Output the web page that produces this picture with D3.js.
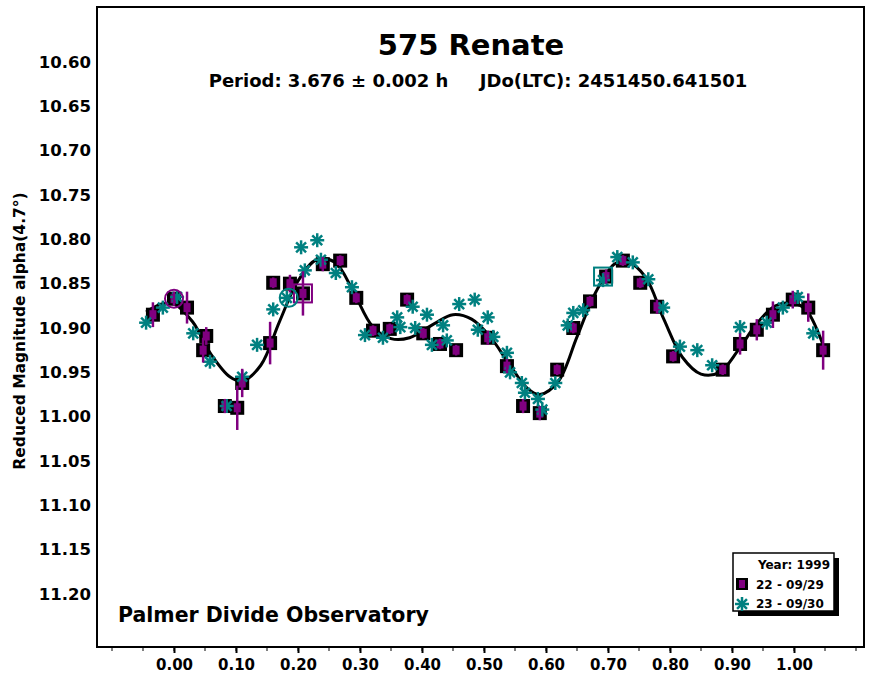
<!DOCTYPE html><html><head><meta charset="utf-8"><script src="https://cdn.jsdelivr.net/npm/d3@7"></script>
<style>body{margin:0;background:#fff}text{font-family:"DejaVu Sans",Arial,sans-serif;font-weight:bold}</style></head><body>
<svg id="c" width="878" height="675"></svg>
<script>
const xTicks=[0,0.1,0.2,0.3,0.4,0.5,0.6,0.7,0.8,0.9,1.0];
const yTicks=[10.60,10.65,10.70,10.75,10.80,10.85,10.90,10.95,11.00,11.05,11.10,11.15,11.20];
const s1x=[-0.034,0.0,0.021,0.047,0.052,0.082,0.102,0.110,0.155,0.160,0.187,0.208,0.240,0.268,0.294,0.321,0.348,0.376,0.402,0.429,0.455,0.506,0.537,0.563,0.590,0.618,0.644,0.671,0.697,0.724,0.752,0.779,0.805,0.885,0.913,0.940,0.966,0.998,1.023,1.047];
const s1y=[10.885,10.867,10.877,10.925,10.909,10.988,10.990,10.962,10.917,10.849,10.850,10.861,10.828,10.824,10.866,10.903,10.901,10.868,10.906,10.918,10.925,10.911,10.943,10.988,10.996,10.947,10.900,10.870,10.842,10.824,10.849,10.876,10.932,10.947,10.918,10.902,10.885,10.868,10.877,10.925];
const s1e=[0.014,0.008,0.018,0.014,0.010,0.008,0.025,0.016,0.024,0.006,0.010,0.025,0.008,0.006,0.006,0.006,0.006,0.006,0.006,0.006,0.006,0.008,0.008,0.008,0.008,0.006,0.006,0.006,0.008,0.006,0.006,0.008,0.006,0.006,0.012,0.012,0.015,0.010,0.016,0.022];
const s2x=[-0.045,-0.018,0.005,0.031,0.058,0.085,0.110,0.134,0.160,0.182,0.205,0.231,0.211,0.237,0.261,0.287,0.308,0.337,0.360,0.365,0.385,0.408,0.389,0.434,0.416,0.440,0.460,0.485,0.490,0.506,0.515,0.537,0.542,0.561,0.566,0.587,0.594,0.615,0.635,0.644,0.660,0.692,0.715,0.740,0.765,0.789,0.816,0.844,0.868,0.913,0.956,0.982,1.006,1.031];
const s2y=[10.894,10.877,10.865,10.906,10.938,10.988,10.955,10.919,10.879,10.866,10.809,10.801,10.835,10.823,10.838,10.854,10.908,10.911,10.888,10.899,10.876,10.885,10.900,10.897,10.919,10.914,10.873,10.868,10.902,10.888,10.910,10.928,10.950,10.962,10.973,10.980,10.992,10.962,10.897,10.883,10.880,10.846,10.820,10.826,10.845,10.877,10.921,10.925,10.942,10.899,10.894,10.877,10.865,10.906];
const fitX=[-0.045,-0.02,0,0.03,0.06,0.09,0.11,0.14,0.17,0.2,0.23,0.26,0.29,0.32,0.35,0.38,0.42,0.45,0.48,0.51,0.54,0.57,0.59,0.62,0.65,0.68,0.71,0.73,0.76,0.79,0.82,0.85,0.88,0.91,0.94,0.97,1.0,1.02,1.05];
const fitY=[10.882,10.873,10.873,10.893,10.930,10.955,10.960,10.942,10.893,10.847,10.823,10.826,10.860,10.898,10.912,10.911,10.895,10.885,10.890,10.910,10.940,10.968,10.975,10.960,10.910,10.860,10.828,10.825,10.842,10.890,10.933,10.952,10.950,10.925,10.895,10.875,10.872,10.880,10.925];
const L=97,R=864,T=7,B=647;
const x=d3.scaleLinear().domain([0,1]).range([174,794]);
const y=d3.scaleLinear().domain([10.6,11.2]).range([62,594]);
const svg=d3.select("#c");
svg.append("rect").attr("x",L).attr("y",T).attr("width",R-L).attr("height",B-T).attr("fill","none").attr("stroke","#000").attr("stroke-width",2);
const xa=svg.append("g").attr("transform",`translate(0,${B})`).call(d3.axisBottom(x).tickValues(xTicks).tickFormat(d3.format(".2f")).tickSize(6));
xa.select(".domain").remove();
xa.selectAll("line").attr("stroke-width",2);
xa.selectAll("text").attr("font-size",15).attr("dy","0.9em").attr("fill","#000");
const xm=d3.range(-0.1,1.11,0.05);
svg.append("g").selectAll("line").data(xm).join("line").attr("x1",d=>x(d)).attr("x2",d=>x(d)).attr("y1",B).attr("y2",B+4).attr("stroke","#000");
const ya=svg.append("g").attr("transform",`translate(${L},0)`).call(d3.axisLeft(y).tickValues(yTicks).tickFormat(d3.format(".2f")).tickSize(0).tickPadding(6));
ya.select(".domain").remove();
ya.selectAll("text").attr("font-size",16.5).attr("fill","#000");
svg.append("text").attr("transform","translate(25,331) rotate(-90)").attr("text-anchor","middle").attr("font-size",15.5).text("Reduced Magnitude alpha(4.7°)");
svg.append("text").attr("x",471).attr("y",55).attr("text-anchor","middle").attr("font-size",29).text("575 Renate");
svg.append("text").attr("x",478).attr("y",87).attr("text-anchor","middle").attr("font-size",18).attr("xml:space","preserve").text("Period: 3.676 ± 0.002 h     JDo(LTC): 2451450.641501");
svg.append("text").attr("x",118).attr("y",622).attr("font-size",20.5).text("Palmer Divide Observatory");
svg.append("path").attr("d",d3.line().x((d,i)=>x(fitX[i])).y(d=>y(d)).curve(d3.curveCatmullRom)(fitY)).attr("fill","none").attr("stroke","#000").attr("stroke-width",3);
const teal="#008080",purple="#800080";
function star(g,cx,cy){for(let a=0;a<4;a++){const t=a*Math.PI/4,r=7;g.append("line").attr("x1",cx-r*Math.cos(t)).attr("y1",cy-r*Math.sin(t)).attr("x2",cx+r*Math.cos(t)).attr("y2",cy+r*Math.sin(t)).attr("stroke",teal).attr("stroke-width",2.5);}}
const g1=svg.append("g");
s1x.forEach((v,i)=>{const cx=x(v),cy=y(s1y[i]);
g1.append("rect").attr("x",cx-7).attr("y",cy-7).attr("width",14).attr("height",14).attr("fill","#000");
g1.append("rect").attr("x",cx-3.5).attr("y",cy-4.5).attr("width",7).attr("height",9).attr("fill",purple);});
const g2=svg.append("g");
s2x.forEach((v,i)=>star(g2,x(v),y(s2y[i])));
const ge=svg.append("g");
s1x.forEach((v,i)=>{ge.append("line").attr("x1",x(v)).attr("x2",x(v)).attr("y1",y(s1y[i]-s1e[i])).attr("y2",y(s1y[i]+s1e[i])).attr("stroke",purple).attr("stroke-width",2.5);});
svg.append("circle").attr("cx",x(0.0)).attr("cy",y(10.867)).attr("r",9).attr("fill","none").attr("stroke",purple).attr("stroke-width",2);
svg.append("rect").attr("x",x(0.208)-9).attr("y",y(10.861)-9).attr("width",18).attr("height",18).attr("fill","none").attr("stroke",purple).attr("stroke-width",2);
svg.append("circle").attr("cx",x(0.185)).attr("cy",y(10.866)).attr("r",9).attr("fill","none").attr("stroke",teal).attr("stroke-width",2);
svg.append("rect").attr("x",x(0.692)-9).attr("y",y(10.842)-9).attr("width",18).attr("height",18).attr("fill","none").attr("stroke",teal).attr("stroke-width",2);
svg.append("rect").attr("x",738).attr("y",558).attr("width",101).attr("height",58).attr("fill","#000");
svg.append("rect").attr("x",733).attr("y",553).attr("width",101).attr("height",58).attr("fill","#fff").attr("stroke","#000").attr("stroke-width",1.5);
svg.append("text").attr("x",830).attr("y",569).attr("text-anchor","end").attr("font-size",12).text("Year: 1999");
svg.append("rect").attr("x",736).attr("y",578).attr("width",12).attr("height",12).attr("fill","#000");
svg.append("rect").attr("x",739).attr("y",580).attr("width",6).attr("height",8).attr("fill",purple);
svg.append("text").attr("x",756).attr("y",589).attr("font-size",12).text("22 - 09/29");
star(svg,742,604);
svg.append("text").attr("x",756).attr("y",608).attr("font-size",12).text("23 - 09/30");
</script></body></html>
